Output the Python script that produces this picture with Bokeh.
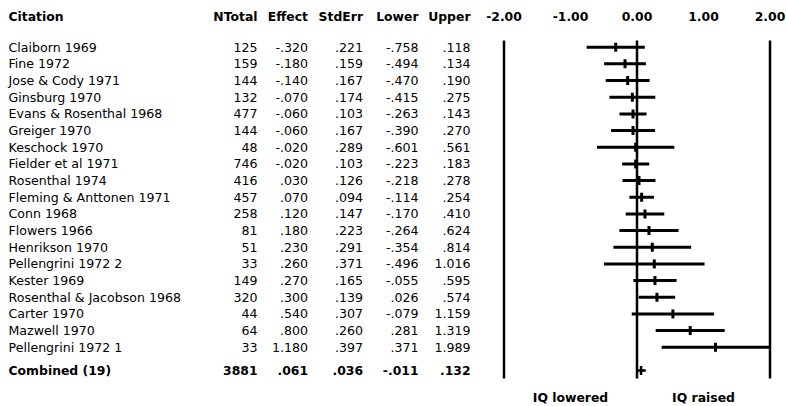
from bokeh.plotting import figure
from bokeh.models import Range1d
from bokeh.core.properties import value
from bokeh.embed import file_html
from bokeh.resources import INLINE

citations = ["Claiborn 1969", "Fine 1972", "Jose & Cody 1971", "Ginsburg 1970",
             "Evans & Rosenthal 1968", "Greiger 1970", "Keschock 1970", "Fielder et al 1971",
             "Rosenthal 1974", "Fleming & Anttonen 1971", "Conn 1968", "Flowers 1966",
             "Henrikson 1970", "Pellengrini 1972 2", "Kester 1969", "Rosenthal & Jacobson 1968",
             "Carter 1970", "Mazwell 1970", "Pellengrini 1972 1"]
ntotal = [125, 159, 144, 132, 477, 144, 48, 746, 416, 457, 258, 81, 51, 33, 149, 320, 44, 64, 33]
effect = [-0.320, -0.180, -0.140, -0.070, -0.060, -0.060, -0.020, -0.020, 0.030, 0.070,
          0.120, 0.180, 0.230, 0.260, 0.270, 0.300, 0.540, 0.800, 1.180]
stderr = [0.221, 0.159, 0.167, 0.174, 0.103, 0.167, 0.289, 0.103, 0.126, 0.094,
          0.147, 0.223, 0.291, 0.371, 0.165, 0.139, 0.307, 0.260, 0.397]
lower = [-0.758, -0.494, -0.470, -0.415, -0.263, -0.390, -0.601, -0.223, -0.218, -0.114,
         -0.170, -0.264, -0.354, -0.496, -0.055, 0.026, -0.079, 0.281, 0.371]
upper = [0.118, 0.134, 0.190, 0.275, 0.143, 0.270, 0.561, 0.183, 0.278, 0.254,
         0.410, 0.624, 0.814, 1.016, 0.595, 0.574, 1.159, 1.319, 1.989]

combined_label = "Combined (19)"
combined_n = 3881
combined_effect = 0.061
combined_stderr = 0.036
combined_lower = -0.011
combined_upper = 0.132

headers = ["Citation", "NTotal", "Effect", "StdErr", "Lower", "Upper"]
axis_ticks = [-2.0, -1.0, 0.0, 1.0, 2.0]
axis_labels = ["-2.00", "-1.00", "0.00", "1.00", "2.00"]
direction_labels = ["IQ lowered", "IQ raised"]
direction_pos = [-1.0, 1.0]

FONT = "DejaVu Sans"
W, H = 786, 406
OX, OY = 0, 0       # page position of the figure's top-left corner
ZERO_PX = 636.5     # page x of effect 0
UNIT_PX = 66.5      # pixels per effect unit
ROW0_PX = 46.7      # page y of first row
ROW_PX = 16.67      # row pitch


def fmt(v):
    s = "%.3f" % v
    if s.startswith("0."):
        s = s[1:]
    elif s.startswith("-0."):
        s = "-" + s[2:]
    return s


def xd(px):
    return (px - ZERO_PX) / UNIT_PX


def yd(py):
    return (py - ROW0_PX) / ROW_PX


p = figure(width=W, height=H, output_backend="svg", toolbar_location=None,
           x_range=Range1d(xd(OX), xd(OX + W)), y_range=Range1d(yd(OY + H), yd(OY)),
           min_border=0, x_axis_location=None, y_axis_location=None)
p.grid.visible = False
p.outline_line_color = None
p.background_fill_color = "white"
p.border_fill_color = "white"

rows = list(range(len(citations)))
comb_row = yd(370)
head_row = yd(16)
dir_row = yd(397)

# column right edges (page px)
col_right = [None, 257, 307.5, 362.5, 418, 470]

txt = dict(text_font=value(FONT), text_font_size="12.6px", text_color="black",
           text_baseline="middle")
bold = dict(txt, text_font_style="bold", text_font_size="12.4px")

# headers
p.text(x=[xd(8)], y=[head_row], text=[headers[0]], text_align="left", **bold)
p.text(x=[xd(c) for c in col_right[1:]], y=[head_row] * 5, text=headers[1:],
       text_align="right", **bold)
p.text(x=axis_ticks, y=[head_row] * 5, text=axis_labels, text_align="center", **bold)

# rows
p.text(x=[xd(8)] * len(rows), y=rows, text=citations, text_align="left", **txt)
cols = [[str(n) for n in ntotal], [fmt(v) for v in effect], [fmt(v) for v in stderr],
        [fmt(v) for v in lower], [fmt(v) for v in upper]]
for c, vals in zip(col_right[1:], cols):
    p.text(x=[xd(c)] * len(rows), y=rows, text=vals, text_align="right", **txt)

# combined row
p.text(x=[xd(8)], y=[comb_row], text=[combined_label], text_align="left", **bold)
comb_vals = [str(combined_n), fmt(combined_effect), fmt(combined_stderr),
             fmt(combined_lower), fmt(combined_upper)]
p.text(x=[xd(c) for c in col_right[1:]], y=[comb_row] * 5, text=comb_vals,
       text_align="right", **bold)

# direction labels
p.text(x=direction_pos, y=[dir_row] * 2, text=direction_labels, text_align="center", **bold)

# reference lines at -2, 0, 2
ref = [axis_ticks[0], axis_ticks[2], axis_ticks[4]]
p.segment(x0=ref, x1=ref, y0=[yd(40)] * 3, y1=[yd(378)] * 3, line_color="black", line_width=2.5)

# confidence intervals
p.segment(x0=lower, x1=upper, y0=rows, y1=rows, line_color="black", line_width=3)
th = 0.27
p.segment(x0=effect, x1=effect, y0=[r - th for r in rows], y1=[r + th for r in rows],
          line_color="black", line_width=3)

# combined
p.segment(x0=[combined_lower], x1=[combined_upper], y0=[comb_row], y1=[comb_row],
          line_color="black", line_width=2.5)
p.segment(x0=[combined_effect], x1=[combined_effect], y0=[comb_row - th], y1=[comb_row + th],
          line_color="black", line_width=2.5)

open("out.html", "w").write(file_html(p, INLINE))
